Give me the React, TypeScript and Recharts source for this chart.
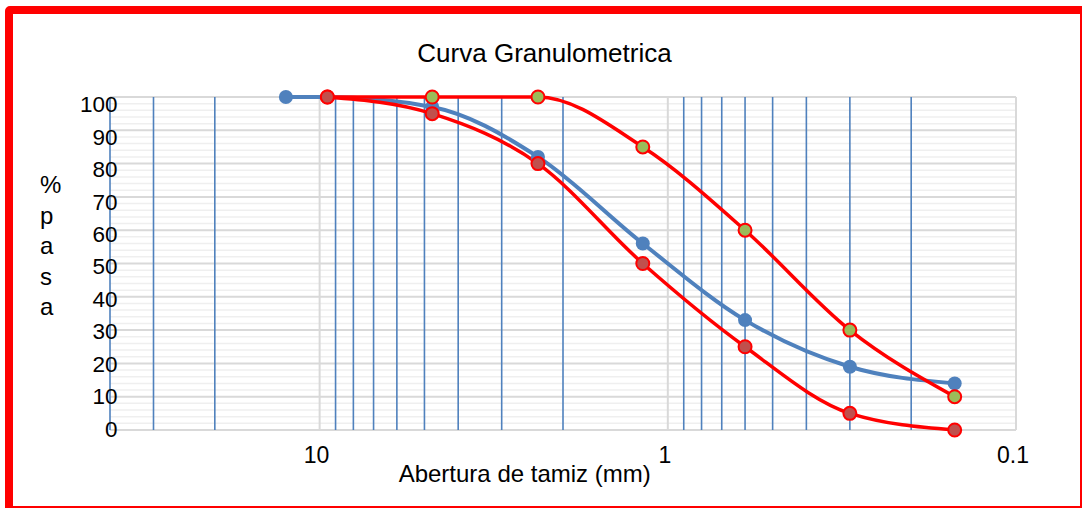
import React from 'react';
import { LineChart, Line, XAxis, YAxis, ReferenceLine } from 'recharts';

const sizes = [12.5, 9.5, 4.75, 2.36, 1.18, 0.6, 0.3, 0.15];
const muestra = [100, 100, 97, 82, 56, 33, 19, 14];
const limiteSuperior = [null, 100, 100, 100, 85, 60, 30, 10];
const limiteInferior = [null, 100, 95, 80, 50, 25, 5, 0];

const xTicks = [0.1, 1, 10];
const xMinor = [0.2, 0.3, 0.4, 0.5, 0.6, 0.7, 0.8, 0.9, 2, 3, 4, 5, 6, 7, 8, 9, 20, 30, 40];
const yTicks = [0, 10, 20, 30, 40, 50, 60, 70, 80, 90, 100];
const yMinor = [2, 4, 6, 8, 12, 14, 16, 18, 22, 24, 26, 28, 32, 34, 36, 38, 42, 44, 46, 48, 52, 54, 56, 58, 62, 64, 66, 68, 72, 74, 76, 78, 82, 84, 86, 88, 92, 94, 96, 98];

const data = sizes.map((s, i) => ({
  size: s,
  muestra: muestra[i],
  sup: limiteSuperior[i],
  inf: limiteInferior[i],
}));

const FONT = '"Liberation Sans", Arial, sans-serif';

const YTick = (props: any) => {
  const { x, y, payload } = props;
  return (
    <text x={x + 7.5} y={y + 6.5 + 0.088 * payload.value} textAnchor="end" fontSize={22.5} fontFamily={FONT} fill="#000">
      {payload.value}
    </text>
  );
};

const XTick = (props: any) => {
  const { x, y, payload } = props;
  return (
    <text x={x - 3} y={y + 33} textAnchor="middle" fontSize={23} fontFamily={FONT} fill="#000">
      {String(payload.value)}
    </text>
  );
};

export default function App() {
  return (
    <div style={{ position: 'absolute', left: 0, top: 0, width: 1082, height: 508, background: '#fff', overflow: 'hidden' }}>
      <div
        style={{
          position: 'absolute',
          left: 5,
          top: 6,
          width: 1077,
          height: 502,
          boxSizing: 'border-box',
          borderTop: '8px solid #FF0000',
          borderLeft: '8px solid #FF0000',
          borderRight: '2px solid #FF0000',
          borderBottom: '2px solid #FF0000',
          borderTopLeftRadius: 5,
        }}
      />
      <div style={{ position: 'absolute', left: 0, top: 0 }}>
        <LineChart width={1082} height={508} data={data} margin={{ top: 97, right: 66, left: 50, bottom: 48 }}>
          <XAxis
            dataKey="size"
            type="number"
            scale="log"
            domain={[0.1, 40]}
            allowDataOverflow
            reversed
            ticks={xTicks}
            axisLine={false}
            tickLine={false}
            tickSize={0}
            tickMargin={0}
            height={30}
            tick={<XTick />}
            interval={0}
          />
          <YAxis
            type="number"
            domain={[0, 100]}
            ticks={yTicks}
            axisLine={false}
            tickLine={false}
            tickSize={0}
            tickMargin={0}
            width={60}
            tick={<YTick />}
            interval={0}
          />
          {yMinor.map((v) => (
            <ReferenceLine key={'ym' + v} y={v} stroke="#EFEFEF" strokeWidth={1.5} />
          ))}
          {yTicks.map((v) => (
            <ReferenceLine key={'yM' + v} y={v} stroke="#D9D9D9" strokeWidth={2} />
          ))}
          {xTicks.map((v) => (
            <ReferenceLine key={'xM' + v} x={v} stroke="#D9D9D9" strokeWidth={2} />
          ))}
          {xMinor.map((v) => (
            <ReferenceLine key={'xm' + v} x={v} stroke="#4F81BD" strokeWidth={1.6} />
          ))}
          <Line
            dataKey="muestra"
            type="monotone"
            stroke="#4F81BD"
            strokeWidth={4}
            dot={{ r: 7, fill: '#4F81BD', stroke: '#4F81BD', strokeWidth: 0 }}
            activeDot={false}
            isAnimationActive={false}
          />
          <Line
            dataKey="sup"
            type="monotone"
            stroke="#FF0000"
            strokeWidth={3.5}
            dot={{ r: 6.5, fill: '#9BBB59', stroke: '#FF0000', strokeWidth: 2 }}
            activeDot={false}
            isAnimationActive={false}
          />
          <Line
            dataKey="inf"
            type="monotone"
            stroke="#FF0000"
            strokeWidth={3.5}
            dot={{ r: 6.5, fill: '#C0504D', stroke: '#FF0000', strokeWidth: 2 }}
            activeDot={false}
            isAnimationActive={false}
          />
        </LineChart>
      </div>
      <svg width={1082} height={508} style={{ position: 'absolute', left: 0, top: 0, pointerEvents: 'none' }}>
        <text x={544.5} y={62} textAnchor="middle" fontSize={26} fontFamily={FONT} fill="#000">
          Curva Granulometrica
        </text>
        <text x={524.7} y={482} textAnchor="middle" fontSize={24} fontFamily={FONT} fill="#000">
          Abertura de tamiz (mm)
        </text>
        {['%', 'p', 'a', 's', 'a'].map((ch, i) => (
          <text key={i} x={40} y={193 + i * 30.5} textAnchor="start" fontSize={24} fontFamily={FONT} fill="#000">
            {ch}
          </text>
        ))}
      </svg>
    </div>
  );
}
